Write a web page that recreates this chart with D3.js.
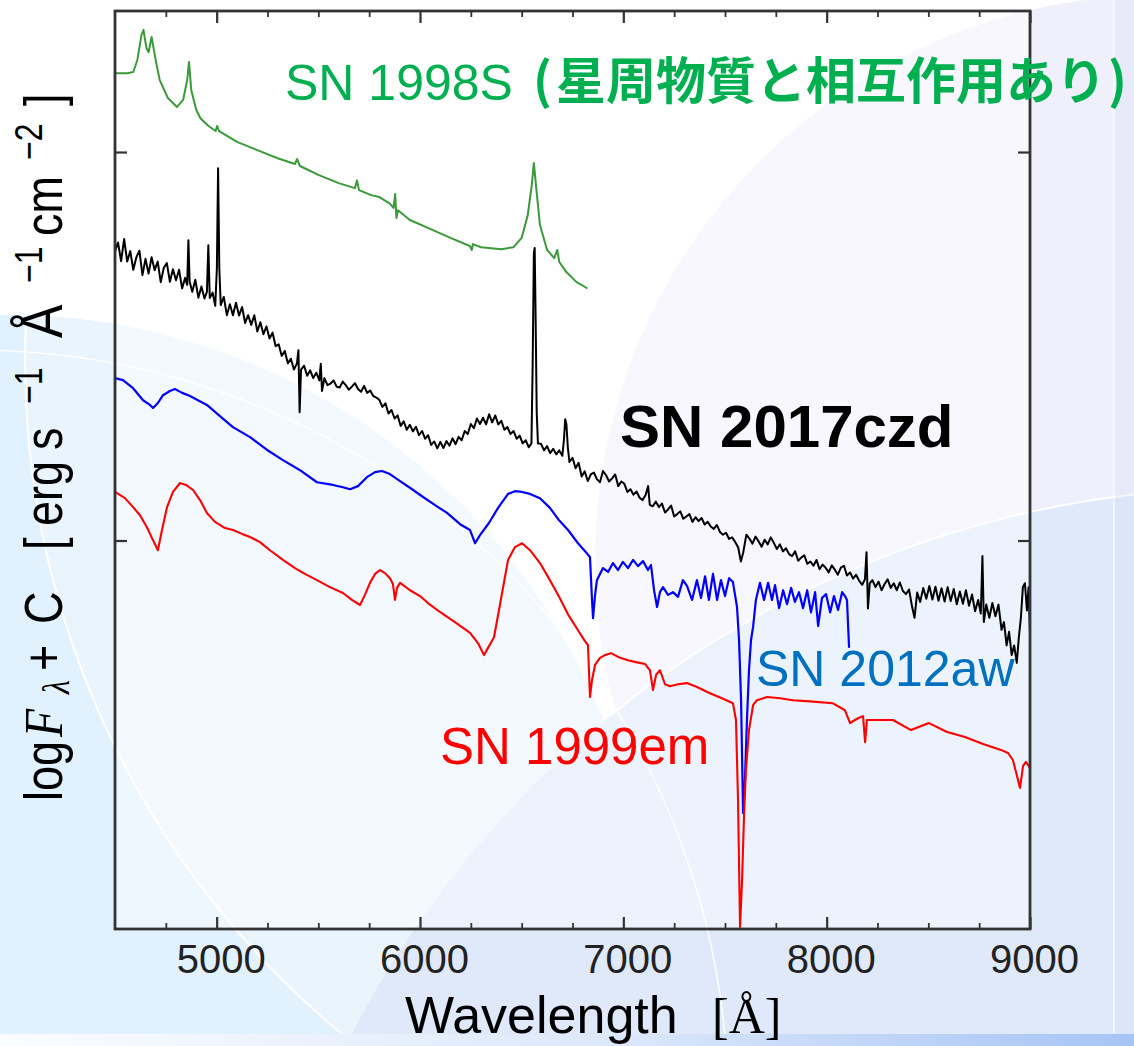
<!DOCTYPE html>
<html>
<head>
<meta charset="utf-8">
<script src="https://cdn.jsdelivr.net/npm/d3@7"></script>
<style>
  html, body { margin: 0; padding: 0; background: #fff; }
  svg { display: block; }
</style>
</head>
<body>
<svg id="chart" width="1134" height="1046"></svg>
<script>
// ---- data: wavelength [Å] and log F + C for each spectrum ----
const xMajorTicks = [5000, 6000, 7000, 8000, 9000];
const xMinorTicks = [4750, 5250, 5500, 5750, 6250, 6500, 6750, 7250, 7500, 7750, 8250, 8500, 8750];
const yTicks = [1, 2];

// SN 1998S (interacting with circumstellar material)
const sn1998S = [
  [4500,2.203],[4560,2.203],[4590,2.206],[4610,2.237],[4630,2.301],[4640,2.314],[4655,2.267],
  [4665,2.257],[4680,2.296],[4700,2.237],[4720,2.185],[4760,2.139],[4805,2.116],[4835,2.134],
  [4855,2.185],[4864,2.232],[4875,2.159],[4900,2.108],[4920,2.087],[4960,2.067],[4995,2.054],
  [5002,2.067],[5012,2.054],[5100,2.026],[5200,2.005],[5300,1.984],[5385,1.969],[5395,1.982],
  [5410,1.964],[5500,1.941],[5600,1.920],[5680,1.907],[5690,1.927],[5700,1.902],[5760,1.889],
  [5800,1.884],[5850,1.868],[5870,1.856],[5878,1.892],[5884,1.830],[5892,1.850],[5950,1.825],
  [6050,1.802],[6150,1.779],[6245,1.758],[6255,1.748],[6260,1.763],[6300,1.755],[6400,1.750],
  [6460,1.755],[6500,1.779],[6530,1.838],[6550,1.916],[6560,1.972],[6570,1.916],[6590,1.812],
  [6625,1.748],[6660,1.727],[6675,1.748],[6685,1.717],[6720,1.691],[6770,1.665],[6820,1.650]
];

// SN 2017czd
const sn2017czd = [
  [4500,1.745],[4515,1.767],[4530,1.719],[4545,1.776],[4560,1.718],[4575,1.745],[4590,1.697],
  [4605,1.729],[4620,1.746],[4635,1.683],[4650,1.725],[4665,1.687],[4680,1.729],[4695,1.696],
  [4710,1.718],[4725,1.665],[4740,1.702],[4755,1.714],[4770,1.666],[4785,1.698],[4800,1.670],
  [4815,1.697],[4830,1.649],[4845,1.676],[4855,1.658],[4861,1.773],[4867,1.667],[4880,1.640],
  [4895,1.671],[4910,1.625],[4925,1.654],[4940,1.623],[4952,1.640],[4959,1.760],[4966,1.624],
  [4980,1.638],[4993,1.604],[5001,1.700],[5007,1.958],[5013,1.700],[5020,1.606],[5035,1.627],
  [5050,1.580],[5065,1.608],[5080,1.580],[5095,1.612],[5110,1.579],[5125,1.601],[5140,1.560],
  [5155,1.580],[5170,1.555],[5185,1.580],[5200,1.538],[5215,1.562],[5230,1.531],[5245,1.551],
  [5260,1.520],[5275,1.535],[5290,1.500],[5305,1.505],[5320,1.475],[5335,1.488],[5350,1.456],
  [5365,1.468],[5380,1.440],[5395,1.456],[5402,1.490],[5408,1.330],[5415,1.440],[5430,1.450],
  [5445,1.424],[5460,1.438],[5475,1.418],[5490,1.432],[5505,1.412],[5512,1.455],[5518,1.385],
  [5530,1.418],[5545,1.400],[5560,1.404],[5575,1.412],[5590,1.396],[5605,1.394],[5620,1.409],
  [5635,1.400],[5650,1.388],[5665,1.396],[5680,1.405],[5695,1.390],[5710,1.383],[5725,1.398],
  [5740,1.380],[5755,1.386],[5770,1.372],[5785,1.368],[5800,1.362],[5815,1.344],[5830,1.353],
  [5845,1.327],[5860,1.336],[5875,1.314],[5890,1.322],[5905,1.295],[5920,1.307],[5935,1.285],
  [5950,1.298],[5965,1.281],[5980,1.293],[5995,1.271],[6010,1.282],[6025,1.262],[6040,1.271],
  [6055,1.246],[6070,1.255],[6085,1.237],[6100,1.254],[6115,1.238],[6130,1.256],[6145,1.244],
  [6160,1.263],[6175,1.248],[6190,1.267],[6205,1.258],[6220,1.282],[6235,1.274],[6250,1.300],
  [6265,1.289],[6280,1.314],[6295,1.300],[6310,1.316],[6325,1.299],[6340,1.325],[6355,1.304],
  [6370,1.322],[6385,1.299],[6400,1.308],[6415,1.285],[6430,1.292],[6445,1.274],[6460,1.282],
  [6475,1.262],[6490,1.270],[6505,1.250],[6520,1.258],[6535,1.240],[6548,1.250],[6554,1.450],
  [6560,1.740],[6564,1.753],[6568,1.600],[6574,1.330],[6580,1.250],[6595,1.249],[6610,1.232],
  [6625,1.243],[6640,1.225],[6655,1.236],[6670,1.222],[6685,1.232],[6700,1.218],[6708,1.260],
  [6714,1.312],[6720,1.300],[6727,1.240],[6735,1.202],[6750,1.213],[6765,1.186],[6780,1.200],
  [6795,1.165],[6810,1.178],[6825,1.153],[6840,1.170],[6855,1.175],[6870,1.158],[6885,1.150],
  [6900,1.179],[6915,1.168],[6930,1.152],[6945,1.160],[6960,1.170],[6975,1.140],[6990,1.152],
  [7005,1.146],[7020,1.125],[7035,1.132],[7050,1.118],[7065,1.126],[7080,1.110],[7095,1.104],
  [7110,1.118],[7122,1.140],[7130,1.092],[7145,1.088],[7160,1.100],[7175,1.086],[7190,1.095],
  [7205,1.072],[7220,1.080],[7235,1.090],[7250,1.062],[7265,1.068],[7280,1.075],[7295,1.056],
  [7310,1.062],[7325,1.068],[7340,1.048],[7355,1.060],[7370,1.050],[7385,1.058],[7400,1.041],
  [7415,1.048],[7430,1.036],[7445,1.030],[7460,1.040],[7475,1.022],[7490,1.015],[7505,1.020],
  [7520,1.004],[7535,1.008],[7550,0.996],[7565,0.982],[7578,0.946],[7590,0.970],[7605,1.015],
  [7620,1.005],[7635,0.992],[7650,1.010],[7665,0.998],[7680,0.984],[7695,1.002],[7710,0.990],
  [7725,1.008],[7740,0.994],[7755,0.978],[7770,0.990],[7785,0.972],[7800,0.980],[7815,0.965],
  [7830,0.960],[7845,0.972],[7860,0.948],[7875,0.956],[7890,0.962],[7905,0.940],[7920,0.946],
  [7935,0.935],[7950,0.950],[7965,0.926],[7980,0.938],[7995,0.930],[8010,0.918],[8025,0.936],
  [8040,0.925],[8055,0.912],[8070,0.930],[8085,0.935],[8100,0.910],[8115,0.918],[8130,0.902],
  [8145,0.912],[8160,0.896],[8175,0.886],[8188,0.900],[8196,0.970],[8203,0.825],[8212,0.890],
  [8225,0.898],[8240,0.880],[8255,0.894],[8270,0.872],[8285,0.888],[8300,0.900],[8315,0.878],
  [8330,0.890],[8345,0.872],[8360,0.892],[8375,0.870],[8390,0.862],[8405,0.874],[8420,0.830],
  [8432,0.801],[8445,0.866],[8460,0.842],[8475,0.878],[8490,0.850],[8505,0.883],[8520,0.848],
  [8535,0.881],[8550,0.845],[8565,0.877],[8580,0.843],[8595,0.880],[8610,0.844],[8625,0.875],
  [8640,0.836],[8655,0.869],[8670,0.837],[8685,0.872],[8700,0.832],[8715,0.861],[8730,0.818],
  [8745,0.847],[8758,0.812],[8766,0.960],[8773,0.790],[8785,0.835],[8800,0.801],[8815,0.839],
  [8830,0.805],[8845,0.835],[8860,0.770],[8872,0.790],[8885,0.730],[8897,0.765],[8910,0.705],
  [8922,0.730],[8935,0.685],[8945,0.750],[8955,0.800],[8965,0.880],[8975,0.890],[8985,0.820],
  [8993,0.880],[9000,0.760]
];

// SN 2012aw
const sn2012aw = [
  [4500,1.418],[4539,1.413],[4589,1.392],[4638,1.361],[4672,1.349],[4687,1.341],[4711,1.354],
  [4736,1.374],[4770,1.385],[4795,1.390],[4830,1.380],[4869,1.372],[4908,1.361],[4952,1.349],
  [5016,1.320],[5080,1.292],[5164,1.266],[5248,1.233],[5326,1.207],[5410,1.181],[5493,1.150],
  [5572,1.143],[5621,1.137],[5656,1.132],[5695,1.140],[5739,1.163],[5779,1.176],[5813,1.179],
  [5852,1.171],[5902,1.153],[5961,1.132],[6015,1.112],[6074,1.091],[6133,1.071],[6197,1.042],
  [6246,1.027],[6271,0.993],[6295,1.014],[6339,1.045],[6384,1.084],[6433,1.120],[6467,1.127],
  [6502,1.125],[6541,1.120],[6590,1.109],[6639,1.084],[6684,1.052],[6728,1.027],[6777,0.993],
  [6816,0.970],[6836,0.957],[6846,0.847],[6851,0.800],[6861,0.860],[6870,0.898],[6900,0.929],
  [6925,0.919],[6949,0.942],[6974,0.924],[6998,0.945],[7023,0.929],[7048,0.950],[7072,0.934],
  [7097,0.947],[7121,0.924],[7136,0.937],[7151,0.872],[7166,0.829],[7180,0.867],[7195,0.880],
  [7220,0.860],[7244,0.867],[7269,0.855],[7293,0.898],[7313,0.883],[7338,0.847],[7362,0.898],
  [7382,0.852],[7402,0.908],[7421,0.847],[7441,0.914],[7461,0.847],[7480,0.898],[7500,0.857],
  [7520,0.903],[7539,0.893],[7559,0.829],[7569,0.744],[7579,0.589],[7589,0.298],[7598,0.383],
  [7608,0.538],[7618,0.666],[7628,0.744],[7638,0.777],[7652,0.847],[7672,0.891],[7692,0.847],
  [7712,0.891],[7731,0.847],[7746,0.885],[7766,0.826],[7786,0.872],[7805,0.836],[7825,0.878],
  [7844,0.842],[7864,0.867],[7884,0.826],[7904,0.872],[7923,0.815],[7943,0.867],[7958,0.780],
  [7977,0.852],[7997,0.862],[8017,0.815],[8036,0.857],[8056,0.821],[8076,0.867],[8090,0.857],
  [8100,0.847],[8110,0.726]
];

// SN 1999em
const sn1999em = [
  [4500,1.125],[4549,1.109],[4589,1.086],[4623,1.065],[4657,1.034],[4682,1.006],[4711,0.975],
  [4731,1.027],[4756,1.086],[4785,1.125],[4820,1.148],[4849,1.143],[4884,1.130],[4918,1.104],
  [4952,1.071],[4992,1.048],[5041,1.032],[5080,1.027],[5125,1.017],[5164,1.009],[5213,0.996],
  [5262,0.975],[5326,0.950],[5385,0.929],[5434,0.914],[5493,0.898],[5557,0.880],[5621,0.865],
  [5665,0.847],[5705,0.834],[5729,0.860],[5754,0.891],[5779,0.914],[5803,0.924],[5828,0.916],
  [5852,0.903],[5867,0.888],[5877,0.847],[5887,0.878],[5902,0.891],[5951,0.872],[6000,0.857],
  [6039,0.839],[6098,0.816],[6177,0.788],[6246,0.762],[6285,0.736],[6315,0.705],[6334,0.723],
  [6364,0.751],[6393,0.834],[6433,0.950],[6467,0.983],[6502,0.993],[6541,0.975],[6590,0.942],
  [6639,0.898],[6684,0.855],[6728,0.810],[6777,0.769],[6811,0.741],[6826,0.731],[6836,0.597],
  [6846,0.641],[6861,0.680],[6885,0.698],[6910,0.705],[6939,0.710],[6984,0.698],[7023,0.692],
  [7062,0.687],[7107,0.682],[7131,0.666],[7146,0.615],[7161,0.654],[7180,0.666],[7205,0.630],
  [7229,0.625],[7269,0.630],[7313,0.633],[7362,0.623],[7426,0.607],[7485,0.594],[7539,0.581],
  [7554,0.538],[7564,0.332],[7574,0.005],[7584,0.126],[7594,0.298],[7603,0.409],[7618,0.512],
  [7638,0.576],[7657,0.589],[7707,0.597],[7771,0.594],[7834,0.589],[7918,0.586],[8031,0.581],
  [8090,0.563],[8115,0.530],[8139,0.538],[8164,0.545],[8179,0.548],[8189,0.481],[8198,0.538],
  [8228,0.538],[8326,0.538],[8415,0.512],[8503,0.530],[8592,0.507],[8680,0.494],[8769,0.476],
  [8857,0.461],[8892,0.453],[8916,0.435],[8931,0.404],[8951,0.363],[8966,0.420],[8980,0.430],
  [9000,0.415]
];

const series = [
  { name: "SN 1998S",   data: sn1998S,   color: "#3a9a3a", width: 2.0 },
  { name: "SN 2017czd", data: sn2017czd, color: "#000000", width: 2.0 },
  { name: "SN 2012aw",  data: sn2012aw,  color: "#0000ff", width: 2.2 },
  { name: "SN 1999em",  data: sn1999em,  color: "#ff0000", width: 2.1 }
];

// ---- layout ----
const W = 1134, H = 1046;
const plot = { left: 115, right: 1030, top: 11, bottom: 929 };

const svg = d3.select("#chart");
const defs = svg.append("defs");

// ---- slide background ----
const grad = defs.append("linearGradient").attr("id", "bottomBand").attr("x1", 0).attr("x2", 1);
grad.append("stop").attr("offset", "0%").attr("stop-color", "#fbfdff");
grad.append("stop").attr("offset", "55%").attr("stop-color", "#dbe7fb");
grad.append("stop").attr("offset", "100%").attr("stop-color", "#a6c4f4");

defs.append("clipPath").attr("id", "blueDisc")
  .append("circle").attr("cx", 6).attr("cy", 958).attr("r", 643);
defs.append("clipPath").attr("id", "rightSide")
  .append("rect").attr("x", 610).attr("y", 0).attr("width", 600).attr("height", H);

const bg = svg.append("g");
bg.append("rect").attr("width", W).attr("height", H).attr("fill", "#ffffff");
bg.append("circle").attr("cx", 6).attr("cy", 958).attr("r", 643).attr("fill", "#e1f1fd");
bg.append("circle").attr("cx", 900).attr("cy", 360).attr("r", 875)
  .attr("fill", "#eaf4fd").attr("stroke", "#ffffff").attr("stroke-width", 2)
  .attr("clip-path", "url(#blueDisc)");
bg.append("circle").attr("cx", 1160).attr("cy", 560).attr("r", 565).attr("fill", "#f0f0fc");
bg.append("circle").attr("cx", 1250).attr("cy", 1500).attr("r", 1012).attr("fill", "#dfe9fa");
bg.append("circle").attr("cx", 1250).attr("cy", 1500).attr("r", 1012)
  .attr("fill", "none").attr("stroke", "#ffffff").attr("stroke-width", 2)
  .attr("clip-path", "url(#rightSide)");
bg.append("circle").attr("cx", -27).attr("cy", 1105).attr("r", 755)
  .attr("fill", "none").attr("stroke", "#ffffff").attr("stroke-width", 1.6).attr("opacity", 0.9);
bg.append("rect").attr("x", 1115).attr("y", 0).attr("width", 19).attr("height", H)
  .attr("fill", "#c8d4f2").attr("opacity", 0.18);
bg.append("line").attr("x1", 1114).attr("x2", 1114).attr("y1", 0).attr("y2", H)
  .attr("stroke", "#ffffff").attr("stroke-width", 1.5).attr("opacity", 0.8);
bg.append("rect").attr("x", 0).attr("y", 1034).attr("width", W).attr("height", 12)
  .attr("fill", "url(#bottomBand)");

// plot panel (semi-transparent white)
svg.append("rect")
  .attr("x", plot.left).attr("y", plot.top)
  .attr("width", plot.right - plot.left).attr("height", plot.bottom - plot.top)
  .attr("fill", "#ffffff").attr("opacity", 0.45);

// ---- scales ----
const x = d3.scaleLinear().domain([4500, 9000]).range([plot.left, plot.right]);
const y = d3.scaleLinear().domain([0, 2.363]).range([plot.bottom, plot.top]);

// ---- spectra ----
const line = d3.line().x(d => x(d[0])).y(d => y(d[1]));
const specG = svg.append("g");
series.forEach(s => {
  specG.append("path")
    .datum(s.data)
    .attr("d", line)
    .attr("fill", "none")
    .attr("stroke", s.color)
    .attr("stroke-width", s.width)
    .attr("stroke-linejoin", "round")
    .attr("stroke-linecap", "round");
});

// ---- axes (inward ticks on all four sides) ----
const axisColor = "#333333";
function styleAxis(g, width) {
  g.select(".domain").remove();
  g.selectAll(".tick line").attr("stroke", axisColor).attr("stroke-width", width);
}

svg.append("g").attr("transform", `translate(0,${plot.bottom})`)
  .call(d3.axisBottom(x).tickValues(xMinorTicks).tickSizeInner(-6).tickSizeOuter(0).tickFormat(""))
  .call(g => styleAxis(g, 1.8));
svg.append("g").attr("transform", `translate(0,${plot.top})`)
  .call(d3.axisTop(x).tickValues(xMinorTicks).tickSizeInner(-6).tickSizeOuter(0).tickFormat(""))
  .call(g => styleAxis(g, 1.8));

const bottomAxis = svg.append("g").attr("transform", `translate(0,${plot.bottom})`)
  .call(d3.axisBottom(x).tickValues(xMajorTicks).tickSizeInner(-12).tickSizeOuter(0)
        .tickPadding(16).tickFormat(d3.format("d")))
  .call(g => styleAxis(g, 2.2));
bottomAxis.selectAll(".tick text")
  .attr("font-family", "'Liberation Sans', Arial, sans-serif")
  .attr("font-size", 40).attr("fill", "#222222").attr("dx", 4);

svg.append("g").attr("transform", `translate(0,${plot.top})`)
  .call(d3.axisTop(x).tickValues(xMajorTicks).tickSizeInner(-12).tickSizeOuter(0).tickFormat(""))
  .call(g => styleAxis(g, 2.2));
svg.append("g").attr("transform", `translate(${plot.left},0)`)
  .call(d3.axisLeft(y).tickValues(yTicks).tickSizeInner(-12).tickSizeOuter(0).tickFormat(""))
  .call(g => styleAxis(g, 2.2));
svg.append("g").attr("transform", `translate(${plot.right},0)`)
  .call(d3.axisRight(y).tickValues(yTicks).tickSizeInner(-12).tickSizeOuter(0).tickFormat(""))
  .call(g => styleAxis(g, 2.2));

// frame
svg.append("rect")
  .attr("x", plot.left).attr("y", plot.top)
  .attr("width", plot.right - plot.left).attr("height", plot.bottom - plot.top)
  .attr("fill", "none").attr("stroke", axisColor).attr("stroke-width", 2.8);

// ---- axis titles ----
const sans = "'Liberation Sans', Arial, Helvetica, sans-serif";
const serif = "'Liberation Serif', 'Times New Roman', serif";

const xTitle = svg.append("text")
  .attr("x", 405).attr("y", 1033)
  .attr("font-family", sans).attr("font-size", 52).attr("fill", "#000");
xTitle.append("tspan").text("Wavelength");
xTitle.append("tspan").attr("x", 712).attr("font-family", serif).attr("font-size", 50).text("[Å]");

// vertical title: each piece placed along the rotated baseline (x = -page y)
const yTitlePieces = [
  { t: "log", at: 801 },
  { t: "F",   at: 737, font: serif, italic: true, size: 46 },
  { t: "λ",   at: 694, font: serif, italic: true, size: 32, shift: 6 },
  { t: "+",   at: 671 },
  { t: "C",   at: 624 },
  { t: "[",   at: 550 },
  { t: "erg", at: 526 },
  { t: "s",   at: 450 },
  { t: "−1",  at: 404, size: 32, shift: -17 },
  { t: "Å",   at: 338, size: 50 },
  { t: "−1",  at: 283, size: 32, shift: -17 },
  { t: "cm",  at: 236 },
  { t: "−2",  at: 160, size: 32, shift: -17 },
  { t: "]",   at: 106 }
];
const yTitle = svg.append("text")
  .attr("transform", "translate(62,0) rotate(-90) scale(1,1.2)")
  .attr("font-family", sans).attr("font-size", 45).attr("fill", "#000");
yTitlePieces.forEach(p => {
  yTitle.append("tspan")
    .attr("x", -p.at).attr("y", p.shift || 0)
    .attr("font-family", p.font || sans)
    .attr("font-style", p.italic ? "italic" : "normal")
    .attr("font-size", p.size || 45)
    .text(p.t);
});

// ---- spectrum labels ----
const cjk = "'Noto Sans CJK JP', 'Noto Sans CJK SC', sans-serif";
const green = "#00b050";
svg.append("text").attr("x", 285).attr("y", 100)
  .attr("font-family", sans).attr("font-size", 50).attr("fill", green)
  .text("SN 1998S");
const note = svg.append("text").attr("y", 99)
  .attr("font-family", cjk).attr("font-weight", 700)
  .attr("font-size", 50).attr("fill", green);
note.append("tspan").attr("x", 533).text("(");
note.append("tspan").attr("x", 556).text("星周物質と相互作用あり");
note.append("tspan").attr("x", 1108).text(")");

svg.append("text").attr("x", 620).attr("y", 447)
  .attr("font-family", sans).attr("font-weight", 700).attr("font-size", 60).attr("fill", "#000")
  .text("SN 2017czd");
svg.append("text").attr("x", 756).attr("y", 686)
  .attr("font-family", sans).attr("font-size", 50).attr("fill", "#0070c0")
  .text("SN 2012aw");
svg.append("text").attr("x", 440).attr("y", 764)
  .attr("font-family", sans).attr("font-size", 51).attr("fill", "#ff0000")
  .text("SN 1999em");
</script>
</body>
</html>
